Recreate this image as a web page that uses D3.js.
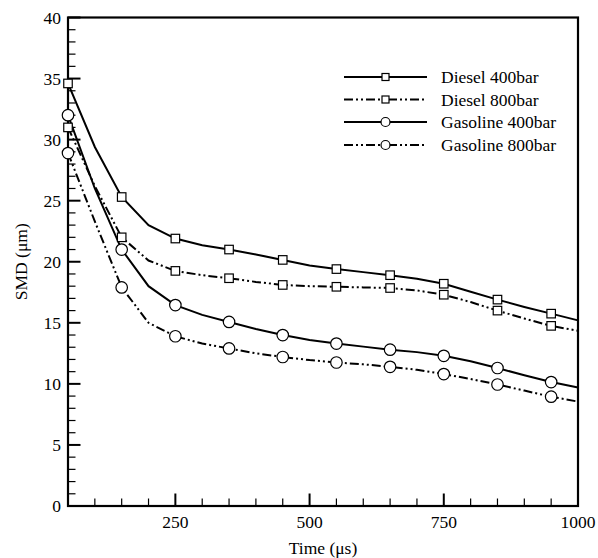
<!DOCTYPE html>
<html lang="en">
<head>
<meta charset="UTF-8">
<title>SMD vs Time</title>
<script src="https://d3js.org/d3.v7.min.js"></script>
<style>
    body { margin: 0; background: #fff; }
    svg text { font-family: "Liberation Serif", "DejaVu Serif", serif; fill: #000; }
    .tick-label { font-size: 17.5px; }
    .axis-title { font-size: 17.5px; }
    .legend text { font-size: 17.5px; }
</style>
</head>
<body>
<svg id="chart" width="598" height="558"></svg>
<script>
    // time points (µs) — markers are placed at the odd 50s
    const times = [50, 100, 150, 200, 250, 300, 350, 400, 450, 500, 550, 600, 650, 700, 750, 800, 850, 900, 950, 1000];
    const markerTimes = [50, 150, 250, 350, 450, 550, 650, 750, 850, 950];

    const diesel400 = [34.6, 29.4, 25.3, 23.0, 21.9, 21.35, 21.0, 20.6, 20.15, 19.7, 19.4, 19.15, 18.9, 18.6, 18.2, 17.55, 16.9, 16.3, 15.75, 15.2];
    const diesel800 = [31.0, 26.2, 22.0, 20.1, 19.25, 18.9, 18.65, 18.35, 18.1, 18.0, 17.95, 17.9, 17.85, 17.65, 17.3, 16.7, 16.0, 15.35, 14.75, 14.35];
    const gasoline400 = [32.0, 26.0, 21.0, 18.0, 16.45, 15.65, 15.07, 14.5, 14.0, 13.6, 13.3, 13.05, 12.8, 12.6, 12.3, 11.85, 11.3, 10.7, 10.15, 9.7];
    const gasoline800 = [28.9, 23.3, 17.9, 15.0, 13.9, 13.3, 12.9, 12.5, 12.2, 11.95, 11.75, 11.6, 11.4, 11.15, 10.8, 10.4, 9.95, 9.45, 8.95, 8.55];

    const seriesNames = ["Diesel 400bar", "Diesel 800bar", "Gasoline 400bar", "Gasoline 800bar"];
    const xTicks = [250, 500, 750, 1000];
    const yTicks = [0, 5, 10, 15, 20, 25, 30, 35, 40];

    const series = [
        { name: seriesNames[0], values: diesel400, marker: "square", dashed: false },
        { name: seriesNames[1], values: diesel800, marker: "square", dashed: true },
        { name: seriesNames[2], values: gasoline400, marker: "circle", dashed: false },
        { name: seriesNames[3], values: gasoline800, marker: "circle", dashed: true }
    ];

    const svg = d3.select("#chart");
    const plotLeft = 68, plotRight = 578, plotTop = 17.5, plotBottom = 506;

    const x = d3.scaleLinear().domain([50, 1000]).range([plotLeft, plotRight]);
    const y = d3.scaleLinear().domain([0, 40]).range([plotBottom, plotTop]);

    const dash = "9,3,2,3,2,3";

    // frame
    svg.append("rect")
        .attr("x", plotLeft).attr("y", plotTop)
        .attr("width", plotRight - plotLeft).attr("height", plotBottom - plotTop)
        .attr("fill", "none").attr("stroke", "#000").attr("stroke-width", 2.2);

    // y ticks (inward)
    const yMinor = d3.range(0, 41, 1);
    svg.append("g").selectAll("line")
        .data(yMinor)
        .join("line")
        .attr("x1", plotLeft).attr("x2", d => d % 5 === 0 ? plotLeft + 12.5 : plotLeft + 7.5)
        .attr("y1", d => y(d)).attr("y2", d => y(d))
        .attr("stroke", "#000")
        .attr("stroke-width", d => d % 5 === 0 ? 2 : 1.2);

    svg.append("g").selectAll("text")
        .data(yTicks)
        .join("text")
        .attr("class", "tick-label")
        .attr("x", plotLeft - 7).attr("y", d => y(d) + 6)
        .attr("text-anchor", "end")
        .text(d => d);

    // x ticks (inward)
    const xMinor = d3.range(100, 1001, 50);
    svg.append("g").selectAll("line")
        .data(xMinor)
        .join("line")
        .attr("x1", d => x(d)).attr("x2", d => x(d))
        .attr("y1", plotBottom).attr("y2", d => d % 250 === 0 ? plotBottom - 12.5 : plotBottom - 7.5)
        .attr("stroke", "#000")
        .attr("stroke-width", d => d % 250 === 0 ? 2 : 1.2);

    svg.append("g").selectAll("text")
        .data(xTicks)
        .join("text")
        .attr("class", "tick-label")
        .attr("x", d => x(d)).attr("y", plotBottom + 22)
        .attr("text-anchor", "middle")
        .text(d => d);

    // axis titles
    svg.append("text")
        .attr("class", "axis-title")
        .attr("x", (plotLeft + plotRight) / 2).attr("y", plotBottom + 48)
        .attr("text-anchor", "middle")
        .text("Time (\u03bcs)");

    svg.append("text")
        .attr("class", "axis-title")
        .attr("transform", `translate(27,${(plotTop + plotBottom) / 2}) rotate(-90)`)
        .attr("text-anchor", "middle")
        .text("SMD (\u03bcm)");

    const line = d3.line()
        .x((d, i) => x(times[i]))
        .y(d => y(d));

    function drawMarker(g, shape, cx, cy, size) {
        if (shape === "square") {
            g.append("rect")
                .attr("x", cx - size / 2).attr("y", cy - size / 2)
                .attr("width", size).attr("height", size)
                .attr("fill", "#fff").attr("stroke", "#000").attr("stroke-width", 1.2);
        } else {
            g.append("circle")
                .attr("cx", cx).attr("cy", cy).attr("r", size / 2)
                .attr("fill", "#fff").attr("stroke", "#000").attr("stroke-width", 1.2);
        }
    }

    const plot = svg.append("g");
    series.forEach(s => {
        plot.append("path")
            .datum(s.values)
            .attr("d", line)
            .attr("fill", "none")
            .attr("stroke", "#000")
            .attr("stroke-width", 2)
            .attr("stroke-dasharray", s.dashed ? dash : null);
    });
    series.forEach(s => {
        const g = plot.append("g");
        markerTimes.forEach(t => {
            const v = s.values[times.indexOf(t)];
            drawMarker(g, s.marker, x(t), y(v), s.marker === "square" ? 8.5 : 11.5);
        });
    });

    // legend
    const legend = svg.append("g").attr("class", "legend");
    const legendY = [77, 99.5, 122, 145];
    series.forEach((s, i) => {
        const ly = legendY[i];
        legend.append("line")
            .attr("x1", 344).attr("x2", 427)
            .attr("y1", ly).attr("y2", ly)
            .attr("stroke", "#000").attr("stroke-width", 2)
            .attr("stroke-dasharray", s.dashed ? dash : null);
        drawMarker(legend, s.marker, 385.5, ly, s.marker === "square" ? 7 : 9);
        legend.append("text")
            .attr("x", 441).attr("y", ly + 6)
            .text(s.name);
    });
</script>
</body>
</html>
